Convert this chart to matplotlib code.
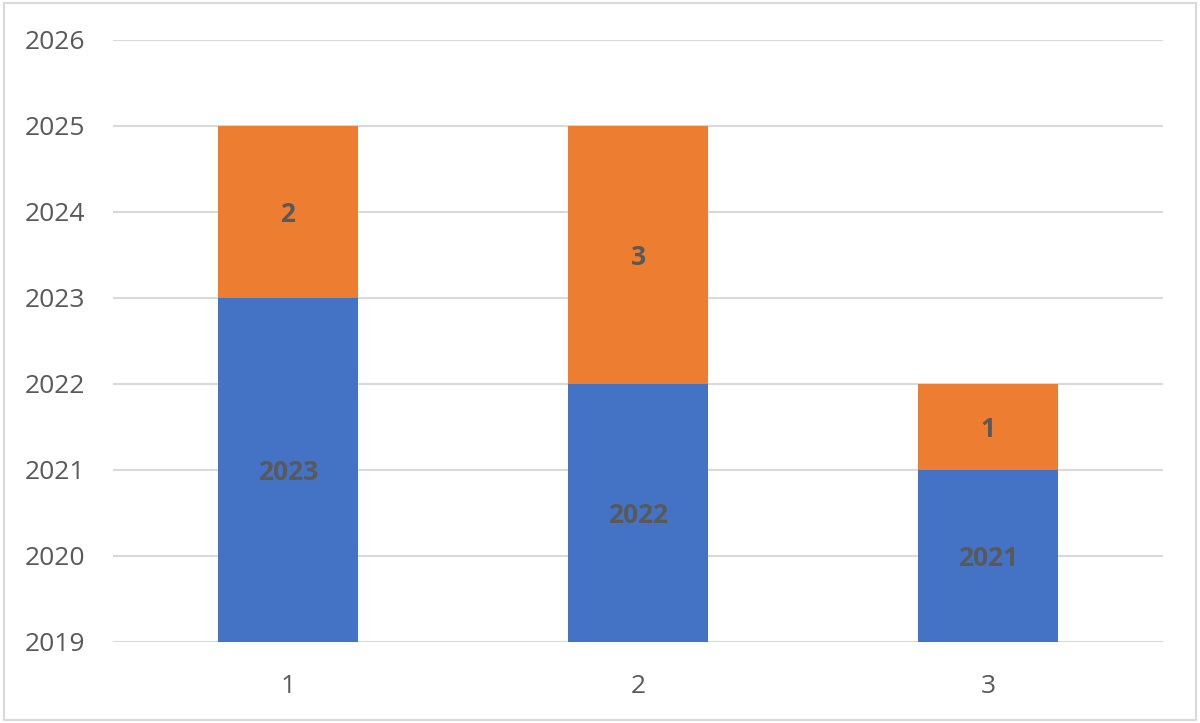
import numpy as np
import matplotlib.pyplot as plt
from matplotlib.patches import Rectangle

# chart data
categories = ['1', '2', '3']
base_vals = [2023, 2022, 2021]
top_vals = [2, 3, 1]

blue = '#4472C4'
orange = '#ED7D31'
grey_txt = '#595959'

plt.rcParams['font.family'] = ['Open Sans', 'DejaVu Sans']

fig = plt.figure(figsize=(12, 7.23), dpi=100)
ax = fig.add_axes([113 / 1200, 1 - 642 / 723, 1050 / 1200, 602 / 723])

x = np.arange(1, len(categories) + 1)
ymin, ymax = 2019, 2026

ax.bar(x, base_vals, width=0.4, color=blue, zorder=2)
ax.bar(x, top_vals, width=0.4, bottom=base_vals, color=orange, zorder=2)

# data labels in the middle of the visible part of each segment
for xi, b, t in zip(x, base_vals, top_vals):
    ax.text(xi, (ymin + b) / 2, str(b), ha='center', va='center_baseline',
            fontsize=19, fontweight='bold', color=grey_txt, zorder=3)
    ax.text(xi, b + t / 2, str(t), ha='center', va='center_baseline',
            fontsize=19, fontweight='bold', color=grey_txt, zorder=3)

ax.set_xlim(0.5, 3.5)
ax.set_ylim(ymin, ymax)
ax.set_yticks(range(ymin, ymax + 1))
ax.set_xticks(x)
ax.set_xticklabels(categories)
ax.yaxis.grid(True, color='#D9D9D9', linewidth=1.5, zorder=0)
ax.set_axisbelow(True)
for s in ax.spines.values():
    s.set_visible(False)
ax.tick_params(length=0, labelsize=19, colors=grey_txt)
ax.tick_params(axis='y', pad=20)
ax.tick_params(axis='x', pad=23)

# outer chart border
fig.patches.append(Rectangle((0.003, 0.004), 0.994, 0.992, transform=fig.transFigure,
                             fill=False, edgecolor='#D9D9D9', linewidth=1.5))

fig.savefig('out.png', dpi=100)
